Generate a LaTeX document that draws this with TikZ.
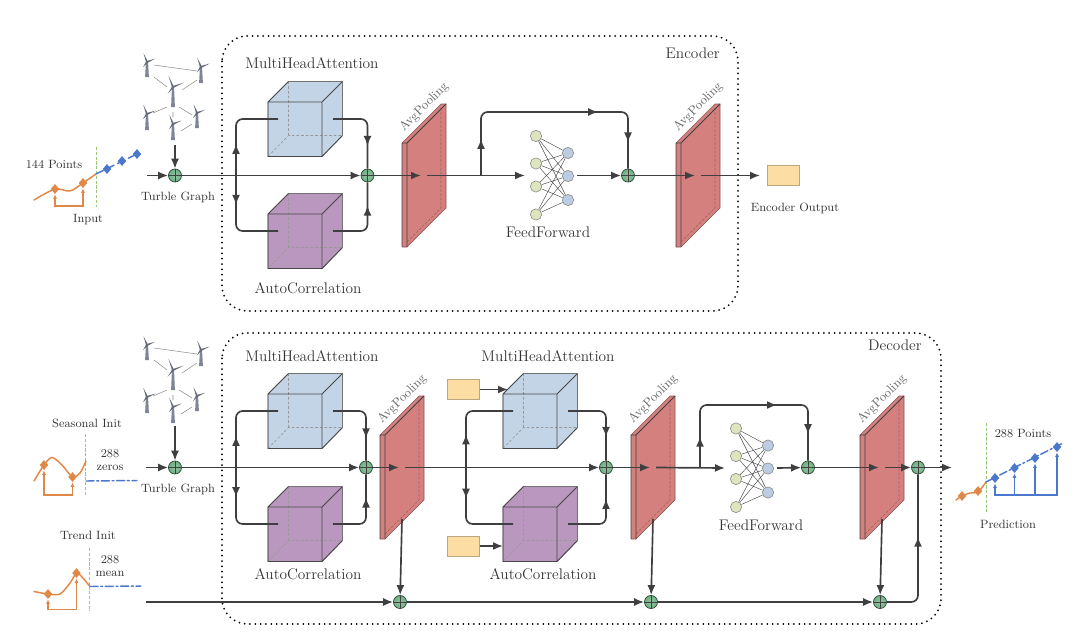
\documentclass[tikz,border=0pt]{standalone}
\usetikzlibrary{arrows.meta,calc,decorations.markings,shapes.geometric}
\definecolor{ink}{HTML}{3F3F41}
\definecolor{textink}{HTML}{333333}
\definecolor{cubeblue}{HTML}{C3D4E6}
\definecolor{cubepurple}{HTML}{BA97BE}
\definecolor{poolred}{HTML}{D4807E}
\definecolor{sand}{HTML}{FCDDA4}
\definecolor{sumgreen}{HTML}{6FB083}
\definecolor{ffgreen}{HTML}{DDE5BF}
\definecolor{ffblue}{HTML}{BCCCE2}
\definecolor{orangeline}{HTML}{E08848}
\definecolor{blueline}{HTML}{4A78CC}
\definecolor{cutgreen}{HTML}{9CC77A}
\definecolor{windgray}{HTML}{7F8498}
\tikzset{
  x=0.75pt,y=-0.75pt,
  conn/.style={draw=ink,line width=1.25pt,rounded corners=5pt},
  tipend/.style={-{Latex[length=7.5pt,width=6pt]}},
  tipat/.style={postaction={decorate},decoration={markings,mark=at position #1 with {\arrow{Latex[length=7.5pt,width=6pt]}}}},
  tiptwo/.style n args={3}{postaction={decorate},decoration={markings,
    mark=at position #1 with {\arrow{Latex[length=7.5pt,width=6pt]}},
    mark=at position #2 with {\arrow{Latex[length=7.5pt,width=6pt]}},
    mark=at position #3 with {\arrow{Latex[length=7.5pt,width=6pt]}}}},
  frame/.style={draw=black,line width=1.5pt,line cap=round,dash pattern=on 0pt off 4pt,rounded corners=19pt},
  big/.style={text=textink,font=\fontsize{11.5}{14}\selectfont,inner sep=0pt},
  small/.style={text=textink,font=\fontsize{9}{11}\selectfont,inner sep=0pt,align=center},
  poolname/.style={text=black!60,font=\fontsize{9.5}{11}\selectfont,rotate=45,inner sep=0pt},
  sumnode/.style={circle,draw=black!60!sumgreen,line width=.5pt,inner color=sumgreen!75,outer color=sumgreen,
    minimum size=9.8pt,inner sep=0pt,
    path picture={\draw[black!75,line width=.55pt]
      (path picture bounding box.north)--(path picture bounding box.south)
      (path picture bounding box.west)--(path picture bounding box.east);}},
  sandbox/.style={draw=black!25!sand,fill=sand,line width=.5pt,minimum width=24pt,minimum height=15pt,inner sep=0pt},
  ffl/.style={circle,draw=black!50,fill=ffgreen,line width=.4pt,minimum size=8.5pt,inner sep=0pt},
  ffr/.style={circle,draw=black!50,fill=ffblue,line width=.4pt,minimum size=8.5pt,inner sep=0pt},
  dot/.style={diamond,fill=#1,inner sep=0pt,minimum width=6.5pt,minimum height=7.5pt},
  series/.style={line width=1.1pt,line cap=round},
  bracket/.style={draw=#1,line width=.95pt,{Latex[length=3.5pt,width=3pt]}-{Latex[length=3.5pt,width=3pt]}},
  cut/.style={draw=cutgreen,line width=.7pt,dash pattern=on 2.4pt off 1.2pt},
}
% three-dimensional block: name, front corner x, front corner y, colour
\newcommand{\blockat}[4]{%
  \begin{scope}[shift={(#2,#3)}]
    \fill[#4,draw=black!25!#4,line width=.5pt] (0,0)--(20.5,-20.5)--(74.5,-20.5)--(74.5,33.5)--(54,54.5)--(0,54.5)--cycle;
    \draw[black!40,line width=.45pt,dash pattern=on 2pt off 1.5pt] (0,54.5)--(20.5,33.5)--(74.5,33.5) (20.5,33.5)--(20.5,-20.5);
    \draw[black!72,line width=.65pt,line join=round] (0,54.5)--(0,0)--(54,0)--(54,54.5)--cycle (0,0)--(20.5,-20.5) (74.5,-20.5)--(54,0) (74.5,33.5)--(54,54.5);
    \draw[black!55,line width=.5pt] (20.5,-20.5)--(74.5,-20.5)--(74.5,33.5);
    \coordinate (#1-l) at (10,17);
    \coordinate (#1-r) at (65,17);
  \end{scope}}
% pooling slab: name, front corner x, front corner y
\newcommand{\slabat}[3]{%
  \begin{scope}[shift={(#2,#3)}]
    \fill[poolred] (0,0)--(39,-39)--(44,-39)--(44,65)--(5,104)--(0,104)--cycle;
    \draw[black!25!poolred,line width=.45pt,dash pattern=on 2pt off 1.2pt] (39,-35)--(39,65)--(5,99);
    \draw[black!35!poolred,line width=.45pt] (0,104)--(5,104)--(44,65)--(44,-39)--(39,-39)--(0,0);
    \draw[black!75,line width=.6pt,line join=round] (0,104)--(0,0)--(5,0)--(5,104) (5,0)--(44,-39);
    \node[poolname] (#1-name) at (22,-36) {AvgPooling};
    \coordinate (#1-a) at (19,32.5);
    \coordinate (#1-b) at (25,32.5);
    \coordinate (#1-d) at (22,84);
  \end{scope}}
% small fully connected network: name, left column x, top node y
\newcommand{\netat}[3]{%
  \begin{scope}[shift={(#2,#3)}]
    \node[ffl] (#1-a) at (0,0) {};
    \node[ffl] (#1-b) at (0,27.5) {};
    \node[ffl] (#1-c) at (0,50.5) {};
    \node[ffl] (#1-d) at (0,78.5) {};
    \node[ffr] (#1-x) at (32,17) {};
    \node[ffr] (#1-y) at (32,40) {};
    \node[ffr] (#1-z) at (32,64) {};
    \foreach \l in {a,b,c,d}\foreach \r in {x,y,z}
      \draw[black!70,line width=.35pt] (#1-\l)--(#1-\r);
    \coordinate (#1-in) at (-11,39.5);
    \coordinate (#1-out) at (41,39.5);
  \end{scope}}
% one wind turbine: hub x, hub y, tower height
\newcommand{\turbineat}[3]{%
  \begin{scope}[shift={(#1,#2)}]
    \fill[windgray] (-1,-1)--(1,-1)--(1.9,#3)--(-1.9,#3)--cycle;
    \foreach \a/\l in {-112/1,-22/.95,128/.7}{
      \fill[windgray!80!black] (\a+90:1)--(\a:.62*#3*\l)--(\a-90:1)--cycle;}
  \end{scope}}
% wind farm graph used at both stages
\newcommand{\farm}{%
  \turbineat{147}{62}{15}\turbineat{201}{67}{16}\turbineat{173}{87}{20}
  \turbineat{147}{114}{16}\turbineat{173}{124}{16}\turbineat{197}{113}{15}
  \draw[black!45,line width=.4pt]
    (154,65)--(197,71) (154,77)--(167,87) (182,90)--(197,80)
    (153,113)--(167,107) (179,107)--(192,115) (173,112)--(173,117) (181,131)--(192,124);}
\begin{document}
\begin{tikzpicture}
\useasboundingbox (0,0) rectangle (1080,639);

% ---- encoder ----
\draw[frame] (222,36) rectangle (738,311);
\node[big,anchor=east] (enctitle) at (720,53) {Encoder};
\node[big] (enctop) at (312,63) {MultiHeadAttention};
\node[big] (encbot) at (308,288) {AutoCorrelation};
\blockat{ea}{268}{102}{cubeblue}
\blockat{ec}{268}{214}{cubepurple}
\slabat{ep1}{402}{143}
\slabat{ep2}{676}{143}
\netat{ef}{536}{136}
\node[big] (effname) at (548,232) {FeedForward};
\node[sandbox,anchor=north west] (eout) at (767,165) {};
\node[small] (eoutname) at (795,208) {Encoder Output};

\farm
\node[sumnode] (s0) at (175,175.5) {};
\node[sumnode] (s1) at (367.5,175.5) {};
\node[sumnode] (s2) at (628,175.5) {};
\coordinate (ein) at (147,175.5);
\coordinate (efarm) at (175,145);
\coordinate (ej) at (236,175.5);
\coordinate (ebr) at (481,175.5);
\coordinate (etop) at (481,112);
\coordinate (etopr) at (628,112);
\coordinate (eend) at (760,175.5);

\draw[conn,tipend] (ein)--(s0);
\draw[conn,tipend] (efarm)--(s0);
\draw[conn,tipend] (s0)--(s1);
\draw[conn,tipat=.33] (ej)|-(ea-l);
\draw[conn,tipat=.31] (ej)|-(ec-l);
\draw[conn,tipat=.72] (ea-r)-|(s1);
\draw[conn,tipat=.71] (ec-r)-|(s1);
\draw[conn,tipend] (s1)--(ep1-a);
\draw[conn,tipend] (ep1-b)--(ef-in);
\draw[conn,tiptwo={.14}{.68}{.9}] (ebr)--(etop)--(etopr)--(s2);
\draw[conn,tipend] (ef-out)--(s2);
\draw[conn,tipend] (s2)--(ep2-a);
\draw[conn,tipend] (ep2-b)--(eend);

\node[small] (g0) at (178,197) {Turble Graph};
\node[small] (p144) at (54,164) {144 Points};
\node[small] (inname) at (88,220) {Input};
\draw[cut] (96,147)--(96,207);
\node[dot=orangeline] (i1) at (55,189) {};
\node[dot=orangeline] (i2) at (83,183) {};
\node[dot=blueline] (i3) at (107,169) {};
\node[dot=blueline] (i4) at (122,161) {};
\node[dot=blueline] (i5) at (137,154) {};
\draw[orangeline,series] plot[smooth] coordinates {(34,200)(55,189)(70,191)(83,183)(96,174)};
\draw[blueline,series,dash pattern=on 6pt off 3pt] (96,174)--(i5);
\coordinate (ib) at (55,206);
\draw[bracket=orangeline] (i1)--(i1|-ib)--(i2|-ib)--(i2);

% ---- decoder ----
\draw[frame] (222,333) rectangle (941,624);
\node[big,anchor=east] (dectitle) at (922,345) {Decoder};
\node[big] (dtop1) at (312,356) {MultiHeadAttention};
\node[big] (dbot1) at (308,574) {AutoCorrelation};
\node[big] (dtop2) at (548,356) {MultiHeadAttention};
\node[big] (dbot2) at (543,574) {AutoCorrelation};
\blockat{da}{268}{394}{cubeblue}
\blockat{dc}{268}{507}{cubepurple}
\blockat{db}{503}{394}{cubeblue}
\blockat{dd}{503}{507}{cubepurple}
\slabat{dp1}{380}{435}
\slabat{dp2}{631}{435}
\slabat{dp3}{860}{435}
\netat{df}{736}{428.5}
\node[big] (dffname) at (761,525) {FeedForward};
\node[sandbox,anchor=north west] (dq) at (447,379) {};
\node[sandbox,anchor=north west] (dk) at (447,536) {};

\begin{scope}[yshift=-212.25pt]\farm\end{scope}
\node[sumnode] (t0) at (175,467.5) {};
\node[sumnode] (t1) at (366,467.5) {};
\node[sumnode] (t2) at (606,467.5) {};
\node[sumnode] (t3) at (808,467.5) {};
\node[sumnode] (t4) at (918,467.5) {};
\node[sumnode] (b1) at (400,602) {};
\node[sumnode] (b2) at (651,602) {};
\node[sumnode] (b3) at (880,602) {};
\coordinate (dinS) at (146,467.5);
\coordinate (dinT) at (146,602);
\coordinate (dfarm) at (175,426);
\coordinate (dj1) at (236,467.5);
\coordinate (dj2) at (466,467.5);
\coordinate (dbr) at (700,467.5);
\coordinate (dtopl) at (700,405);
\coordinate (dtopr) at (808,405);
\coordinate (dcorner) at (918,602);
\coordinate (dend) at (952,467.5);
\coordinate (dqt) at (508,389.5);
\coordinate (dkt) at (503,546);

\draw[conn,tipend] (dinS)--(t0);
\draw[conn,tipend] (dfarm)--(t0);
\draw[conn,tipend] (t0)--(t1);
\draw[conn,tipat=.33] (dj1)|-(da-l);
\draw[conn,tipat=.31] (dj1)|-(dc-l);
\draw[conn,tipat=.72] (da-r)-|(t1);
\draw[conn,tipat=.71] (dc-r)-|(t1);
\draw[conn,tipend] (t1)--(dp1-a);
\draw[conn,tipend] (dp1-b)--(t2);
\draw[conn,tipat=.33] (dj2)|-(db-l);
\draw[conn,tipat=.31] (dj2)|-(dd-l);
\draw[conn,tipat=.72] (db-r)-|(t2);
\draw[conn,tipat=.71] (dd-r)-|(t2);
\draw[conn,tipend] (dq.east|-dqt)--(dqt);
\draw[conn,tipend] (dk.east|-dkt)--(dkt);
\draw[conn,tipend] (t2)--(dp2-a);
\draw[conn,tipend] (dp2-b)--(df-in);
\draw[conn,tiptwo={.14}{.62}{.88}] (dbr)--(dtopl)--(dtopr)--(t3);
\draw[conn,tipend] (df-out)--(t3);
\draw[conn,tipend] (t3)--(dp3-a);
\draw[conn,tipend] (dp3-b)--(t4);
\draw[conn,tipend] (t4)--(dend);
\draw[conn,tipend] (dinT)--(b1);
\draw[conn,tipend] (b1)--(b2);
\draw[conn,tipend] (b2)--(b3);
\draw[conn,tipend] (dp1-d)--(b1);
\draw[conn,tipend] (dp2-d)--(b2);
\draw[conn,tipend] (dp3-d)--(b3);
\draw[conn,tipat=.6] (b3)--(dcorner)--(t4);

\node[small] (g1) at (178,489) {Turble Graph};

% seasonal initialisation
\node[small] (sname) at (87,423) {Seasonal Init};
\node[small] (szero) at (110,460) {288\\[-1.5pt]zeros};
\draw[cut] (85,434)--(85,496);
\node[dot=orangeline] (s_a) at (44,465) {};
\node[dot=orangeline] (s_b) at (72.5,477) {};
\draw[orangeline,series] plot[smooth] coordinates {(34,481)(44,465)(52,457.5)(62,465)(72.5,477)(80,473)(86,461)};
\coordinate (sp0) at (86,481);
\coordinate (sp1) at (137,480.5);
\draw[blueline,series,dash pattern=on 6pt off 2pt on 1.5pt off 2pt] (sp0)--(sp1);
\coordinate (sb) at (44,495);
\draw[bracket=orangeline] (s_a)--(s_a|-sb)--(s_b|-sb)--(s_b);

% trend initialisation
\node[small] (tname) at (88,535) {Trend Init};
\node[small] (tmean) at (110,566) {288\\[-1.5pt]mean};
\draw[cut] (89,548)--(89,611);
\node[dot=orangeline] (t_a) at (48,594) {};
\node[dot=orangeline] (t_b) at (76.5,573) {};
\draw[orangeline,series] plot[smooth] coordinates {(34,591.5)(48,594)(60,594)(70,583)(76.5,573)(82,577)(90,586.5)};
\coordinate (tp0) at (90,586.5);
\coordinate (tp1) at (141,586);
\draw[blueline,series,dash pattern=on 6pt off 2pt on 1.5pt off 2pt] (tp0)--(tp1);
\coordinate (tb) at (48,609.5);
\draw[bracket=orangeline] (t_a)--(t_a|-tb)--(t_b|-tb)--(t_b);

% prediction
\node[small] (pp) at (1023,434) {288 Points};
\node[small] (pn) at (1008,524) {Prediction};
\draw[cut] (986,423)--(986,512);
\node[dot=orangeline] (o1) at (962,496) {};
\node[dot=orangeline] (o2) at (978,491) {};
\draw[orangeline,series] plot[smooth] coordinates {(956,500)(962,496)(970,493)(978,492)(986,482)};
\node[dot=blueline] (w1) at (995,478) {};
\node[dot=blueline] (w2) at (1014.5,468) {};
\node[dot=blueline] (w3) at (1035,458) {};
\node[dot=blueline] (w4) at (1057,447) {};
\coordinate (wa) at (986,482);
\coordinate (wb) at (1062,443.5);
\draw[blueline,series,dash pattern=on 6pt off 2pt on 1.5pt off 2pt] (wa)--(wb);
\coordinate (wy) at (996,495);
\draw[bracket=blueline] (w1)--(w1|-wy)--(w4|-wy)--(w4);
\draw[draw=blueline,line width=.95pt,-{Latex[length=3.5pt,width=3pt]}] (w2|-wy)--(w2);
\draw[draw=blueline,line width=.95pt,-{Latex[length=3.5pt,width=3pt]}] (w3|-wy)--(w3);
\end{tikzpicture}
\end{document}
